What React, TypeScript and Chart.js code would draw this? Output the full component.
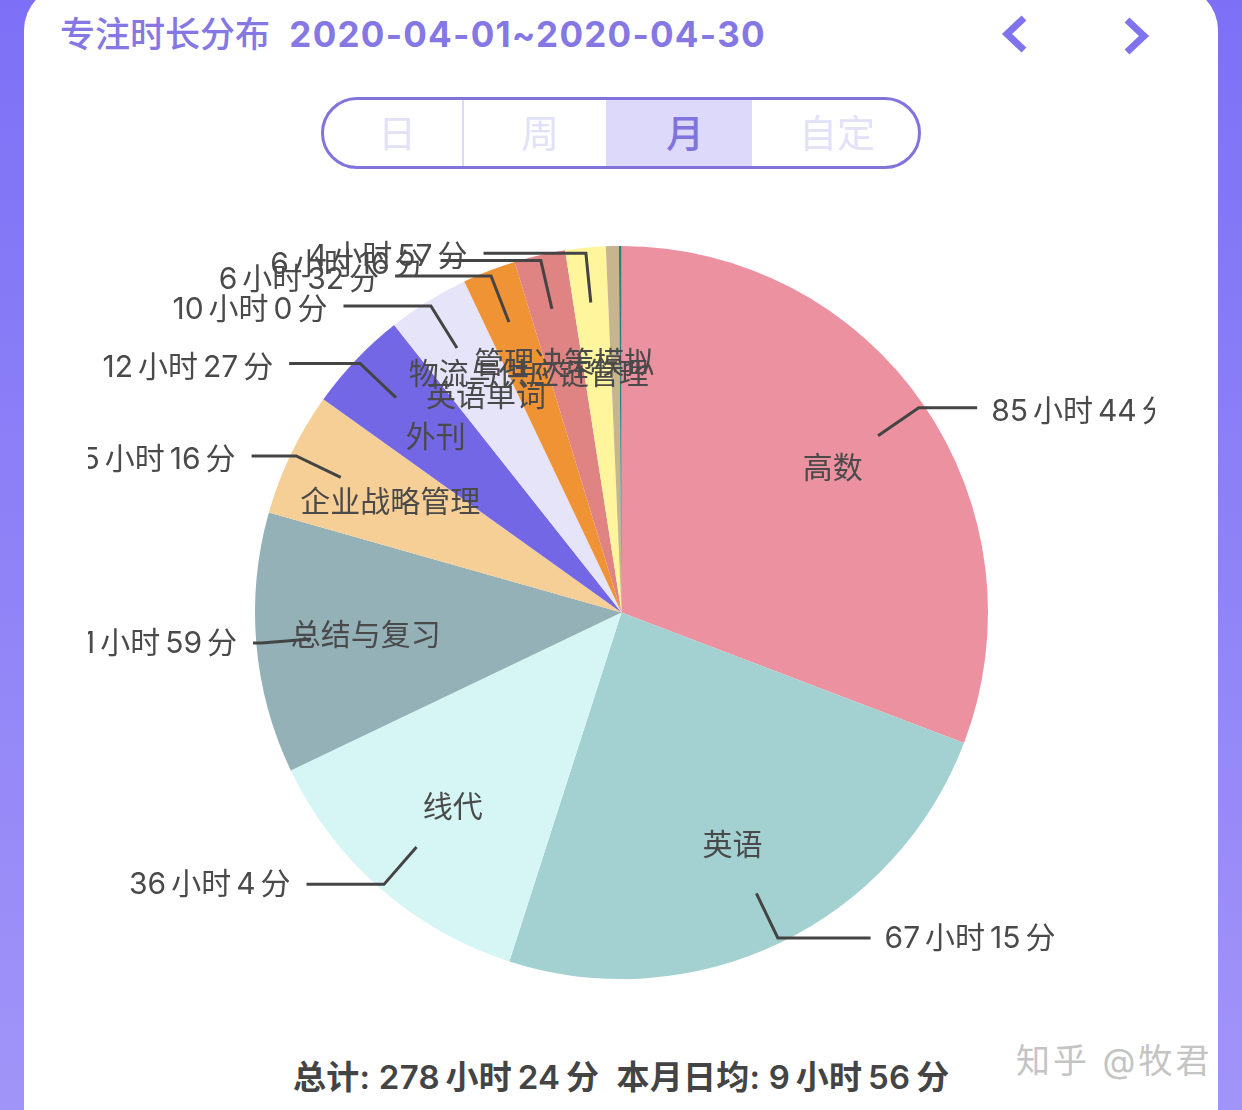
import React, { useEffect, useRef } from 'react';
import Chart from 'chart.js/auto';

const categories = ['高数', '英语', '线代', '总结与复习', '企业战略管理', '外刊', '英语单词', '物流与供应链管理', '管理决策模拟', '', '', ''];
const focusMinutes = [5144, 4035, 2164, 1919, 916, 747, 600, 392, 376, 297, 95, 19];
const durationLabels = [
  '85 小时 44 分',
  '67 小时 15 分',
  '36 小时 4 分',
  '31 小时 59 分',
  '15 小时 16 分',
  '12 小时 27 分',
  '10 小时 0 分',
  '6 小时 32 分',
  '6 小时 16 分',
  '4 小时 57 分',
  '',
  '',
];
const sliceColors = ['#EC919F', '#A3D1D2', '#D6F6F5', '#93B1B7', '#F6CF97', '#7467E5', '#E6E4F9', '#F09335', '#E08383', '#FFF59D', '#C6B58F', '#2F7F7F'];

const rangeTabs = ['日', '周', '月', '自定'];

const FONT = 'Inter, "Noto Sans CJK SC", "Noto Sans", sans-serif';
const TEXT_COLOR = '#4a4a4a';
const THIN = '\u2006';

// inner name + leader line + duration text for each slice
const pieLabels = {
  id: 'pieLabels',
  afterDatasetsDraw(chart: Chart) {
    const { ctx } = chart;
    const arcs = chart.getDatasetMeta(0).data as any[];
    ctx.save();
    ctx.font = `30px ${FONT}`;
    ctx.textBaseline = 'middle';
    ctx.fillStyle = TEXT_COLOR;
    ctx.strokeStyle = '#444';
    ctx.lineWidth = 3;

    arcs.forEach((arc, i) => {
      const mid = (arc.startAngle + arc.endAngle) / 2;
      const cos = Math.cos(mid);
      const sin = Math.sin(mid);
      const r = arc.outerRadius;

      if (categories[i]) {
        ctx.textAlign = 'center';
        ctx.fillText(categories[i], arc.x + cos * r * 0.7, arc.y + sin * r * 0.7 + 2);
      }
      if (!durationLabels[i]) return;

      const startX = arc.x + cos * r * 0.85;
      const startY = arc.y + sin * r * 0.85;
      const elbowX = arc.x + cos * r * 0.985;
      const elbowY = arc.y + sin * r * 0.985;
      const side = cos >= 0 ? 1 : -1;
      const endX = elbowX + side * Math.abs(elbowY - arc.y) * 0.285;

      ctx.beginPath();
      ctx.moveTo(startX, startY);
      ctx.lineTo(elbowX, elbowY);
      ctx.lineTo(endX, elbowY);
      ctx.stroke();

      ctx.textAlign = side > 0 ? 'left' : 'right';
      ctx.fillText(durationLabels[i].split(' ').join(THIN), endX + side * (side > 0 ? 14 : 16), elbowY + (sin < 0 ? 4 : 1));
    });
    ctx.restore();
  },
};

const PieCanvas: React.FC = () => {
  const canvasRef = useRef<HTMLCanvasElement>(null);

  useEffect(() => {
    if (!canvasRef.current) return;
    const chart = new Chart(canvasRef.current, {
      type: 'pie',
      data: {
        labels: categories,
        datasets: [{ data: focusMinutes, backgroundColor: sliceColors, borderWidth: 0 }],
      },
      options: {
        animation: false,
        responsive: false,
        layout: { padding: { top: 56, bottom: 57 } },
        plugins: { legend: { display: false }, tooltip: { enabled: false } },
      },
      plugins: [pieLabels],
    });
    return () => chart.destroy();
  }, []);

  return (
    <canvas
      ref={canvasRef}
      width={1067}
      height={846}
      style={{ position: 'absolute', left: 88, top: 190, width: 1067, height: 846 }}
    />
  );
};

const text = (left: number, top: number, extra: React.CSSProperties): React.CSSProperties => ({
  position: 'absolute',
  left,
  top,
  whiteSpace: 'pre',
  lineHeight: 1,
  ...extra,
});

const App: React.FC = () => (
  <div
    style={{
      position: 'fixed',
      left: 0,
      top: 0,
      width: 1242,
      height: 1110,
      overflow: 'hidden',
      fontFamily: FONT,
      background: 'linear-gradient(#7D70F6, #A194F8)',
    }}
  >
    <div style={{ position: 'absolute', left: 24, top: -14, width: 1194, height: 1200, background: '#fff', borderRadius: 44 }} />

    <div style={text(60, 17, { fontSize: 35, color: '#8577E4', fontWeight: 500 })}>
      专注时长分布 <span style={{ fontWeight: 700, letterSpacing: 1.25, marginLeft: 10 }}>2020-04-01~2020-04-30</span>
    </div>

    <svg style={{ position: 'absolute', left: 0, top: 0 }} width={1242} height={70}>
      <polyline points="1024,18 1007,34 1024,50" fill="none" stroke="#7F73EE" strokeWidth={7} />
      <polyline points="1127,20 1144,36 1127,52" fill="none" stroke="#7F73EE" strokeWidth={7} />
    </svg>

    <div
      style={{
        position: 'absolute',
        left: 321,
        top: 97,
        width: 600,
        height: 72,
        boxSizing: 'border-box',
        border: '3px solid #8074DC',
        borderRadius: 36,
        overflow: 'hidden',
        display: 'flex',
      }}
    >
      {rangeTabs.map((tab, i) => (
        <div
          key={tab}
          style={{
            width: [140, 142, 146, 166][i],
            boxSizing: 'border-box',
            paddingLeft: [8, 10, 12, 4][i],
            borderRight: i === 0 ? '2px solid #DDDAF7' : 'none',
            background: i === 2 ? '#DCD9FB' : 'transparent',
            color: i === 2 ? '#7F73DD' : '#E3E1F7',
            fontSize: 38,
            fontWeight: i === 2 ? 500 : 400,
            textAlign: 'center',
            lineHeight: '66px',
          }}
        >
          {tab}
        </div>
      ))}
    </div>

    <PieCanvas />

    <div style={text(293, 1061, { fontSize: 33, color: '#444', fontWeight: 600, letterSpacing: 0.25 })}>
      {`总计: 278${THIN}小时${THIN}24${THIN}分  本月日均: 9${THIN}小时${THIN}56${THIN}分`}
    </div>
    <div style={text(1016, 1044, { fontSize: 34, color: '#c4c4c4', fontWeight: 400, letterSpacing: 3 })}>知乎 @牧君</div>
  </div>
);

export default App;
